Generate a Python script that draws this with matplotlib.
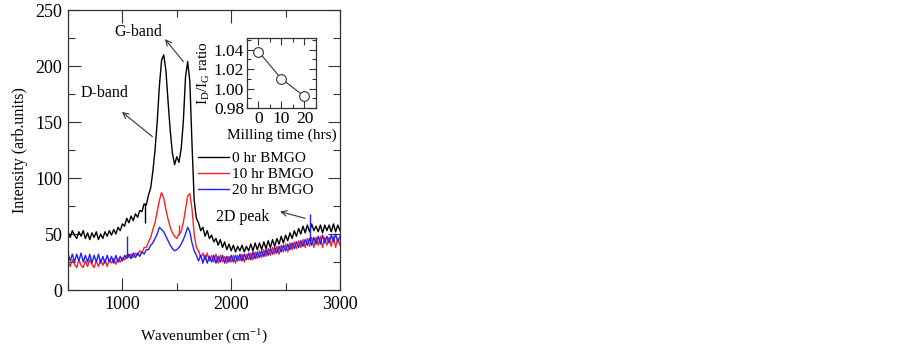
import matplotlib
matplotlib.use("Agg")
import matplotlib.pyplot as plt
import numpy as np
from matplotlib.ticker import MultipleLocator, FormatStrFormatter

plt.rcParams['font.family'] = ['Liberation Serif', 'DejaVu Serif']
plt.rcParams['mathtext.fontset'] = 'custom'
plt.rcParams['mathtext.rm'] = 'Liberation Serif'
plt.rcParams['mathtext.it'] = 'Liberation Serif:italic'

# wavenumber grid (cm^-1)
wavenumber = list(range(500, 3001, 20))

hr0 = [52, 47, 53, 49, 46, 52, 48, 53, 46, 51, 45, 51, 47, 52, 45, 50, 46, 52, 48, 53,
       49, 54, 50, 56, 53,
       59, 57, 64, 60, 66, 62, 68, 65, 71, 70, 77, 76, 85, 91, 106,
       125, 150, 182, 205, 210, 196, 168, 142, 122, 112, 119, 114, 126, 150, 190, 204, 186, 130, 80, 64,
       60, 53, 56, 48, 53, 46, 49, 43, 46, 40, 45, 38, 43, 36, 41, 35, 40, 34, 39, 35,
       40, 34, 39, 35, 41, 35, 42, 36, 42, 36, 43, 37, 44, 38, 45, 39, 46, 41, 48, 42,
       49, 44, 51, 46, 53, 48, 55, 50, 57, 51, 58, 52, 59, 53, 57, 52, 58, 51, 58, 53,
       58, 52, 59, 52, 58, 53]

hr10 = [26, 21, 27, 23, 20, 27, 22, 20, 26, 21, 27, 23, 20, 26, 21, 27, 22, 27, 21, 27,
        24, 28, 23, 28, 25,
        29, 27, 31, 29, 32, 29, 33, 31, 35, 33, 38, 38, 43, 47, 54,
        60, 70, 80, 87, 82, 72, 63, 56, 51, 48, 46, 50, 52, 60, 72, 84, 86, 72, 50, 38,
        35, 29, 33, 27, 33, 26, 31, 25, 32, 24, 31, 25, 30, 24, 30, 25, 31, 24, 31, 26,
        32, 25, 32, 27, 33, 27, 34, 28, 35, 29, 36, 30, 37, 31, 38, 32, 39, 32, 40, 34,
        41, 34, 42, 36, 43, 37, 44, 38, 45, 38, 46, 39, 47, 38, 47, 40, 48, 38, 47, 40,
        47, 39, 48, 38, 46, 40]

hr20 = [33, 26, 32, 25, 32, 26, 33, 25, 31, 25, 32, 24, 31, 25, 32, 24, 30, 24, 31, 25,
        30, 24, 31, 25, 30,
        26, 31, 28, 32, 28, 33, 29, 33, 30, 34, 32, 36, 36, 40, 42,
        46, 50, 56, 54, 52, 48, 44, 40, 37, 35, 36, 38, 41, 45, 50, 56, 52, 42, 35, 31,
        26, 31, 24, 31, 24, 30, 25, 31, 24, 30, 25, 31, 24, 30, 25, 31, 25, 31, 26, 32,
        26, 32, 27, 33, 27, 34, 28, 34, 29, 35, 30, 36, 31, 37, 32, 38, 33, 39, 34, 40,
        35, 41, 36, 42, 37, 43, 38, 44, 39, 45, 40, 46, 40, 47, 41, 48, 41, 49, 42, 48,
        42, 49, 43, 50, 43, 48]

# narrow spikes: (position, base, tip)
spikes_hr0 = [(1210, 77, 60)]
spikes_hr10 = [(1522, 49, 58)]
spikes_hr20 = [(1042, 30, 48), (2722, 44, 68)]

series_labels = ['0 hr BMGO', '10 hr BMGO', '20 hr BMGO']
series_colors = ['black', '#ff2020', '#2020ff']

# inset data
milling_time = [0, 10, 20]
id_ig_ratio = [1.038, 1.010, 0.992]

fig = plt.figure(figsize=(9.03, 3.49), dpi=100)
ax = fig.add_axes([0.0753, 0.169, 0.3012, 0.8023])

for data, spikes, lab, col in zip([hr0, hr10, hr20], [spikes_hr0, spikes_hr10, spikes_hr20],
                                  series_labels, series_colors):
    ax.plot(wavenumber, data, color=col, lw=1.0, label=lab)
    for (xs, yb, yt) in spikes:
        ax.vlines(xs, min(yb, yt), max(yb, yt), color=col, lw=1.0)

ax.set_xlim(500, 3000)
ax.set_ylim(0, 250)
ax.xaxis.set_major_locator(MultipleLocator(1000))
ax.xaxis.set_minor_locator(MultipleLocator(500))
ax.yaxis.set_major_locator(MultipleLocator(50))
ax.yaxis.set_minor_locator(MultipleLocator(25))
ax.tick_params(which='both', direction='in', top=True, right=True, labelsize=13, width=0.8,
               color='#333333')
ax.tick_params(which='major', length=9, pad=4)
ax.tick_params(which='minor', length=5)
for s in ax.spines.values():
    s.set_linewidth(0.9)
    s.set_color('#333333')
ax.set_xlabel('Wavenumber (cm$^{-1}$)', fontsize=11, labelpad=11)
ax.set_ylabel('Intensity (arb.units)', fontsize=11.5, labelpad=5)

leg = ax.legend(loc='center left', bbox_to_anchor=(0.478, 0.414), frameon=False, fontsize=11,
                borderpad=0, borderaxespad=0, handlelength=2.0, handletextpad=0.2,
                labelspacing=0.15)

arrow = dict(arrowstyle='->', lw=0.8, color='#333333', shrinkA=0, shrinkB=0)
ax.text(1143, 230, 'G-band', ha='center', va='center', fontsize=11.5)
ax.annotate('', xy=(1392, 224), xytext=(1560, 204), arrowprops=arrow)
ax.text(840, 176, 'D-band', ha='center', va='center', fontsize=11.5)
ax.annotate('', xy=(996, 159), xytext=(1275, 137), arrowprops=arrow)
ax.text(2110, 65, '2D peak', ha='center', va='center', fontsize=11.5)
ax.annotate('', xy=(2450, 70), xytext=(2680, 64), arrowprops=arrow)

ins = fig.add_axes([0.2735, 0.6905, 0.0764, 0.2006])
ins.plot(milling_time, id_ig_ratio, color='#333333', lw=0.8, marker='o', markersize=7,
         markerfacecolor='white', markeredgecolor='#333333', markeredgewidth=0.8)
ins.set_xlim(-5, 25)
ins.set_ylim(0.98, 1.052)
ins.xaxis.set_major_locator(MultipleLocator(10))
ins.xaxis.set_minor_locator(MultipleLocator(5))
ins.yaxis.set_major_locator(MultipleLocator(0.02))
ins.yaxis.set_minor_locator(MultipleLocator(0.01))
ins.yaxis.set_major_formatter(FormatStrFormatter('%.2f'))
ins.tick_params(which='both', direction='in', top=True, right=True, labelsize=12.5, width=0.8,
                color='#333333', pad=2)
ins.tick_params(which='major', length=5)
ins.tick_params(which='minor', length=3)
for s in ins.spines.values():
    s.set_linewidth(0.9)
    s.set_color('#333333')
ins.set_xlabel('Milling time (hrs)', fontsize=11, labelpad=1)
ins.set_ylabel('I$_\\mathrm{D}$/I$_\\mathrm{G}$ ratio', fontsize=11, labelpad=1)

fig.savefig('out.png', dpi=100)
